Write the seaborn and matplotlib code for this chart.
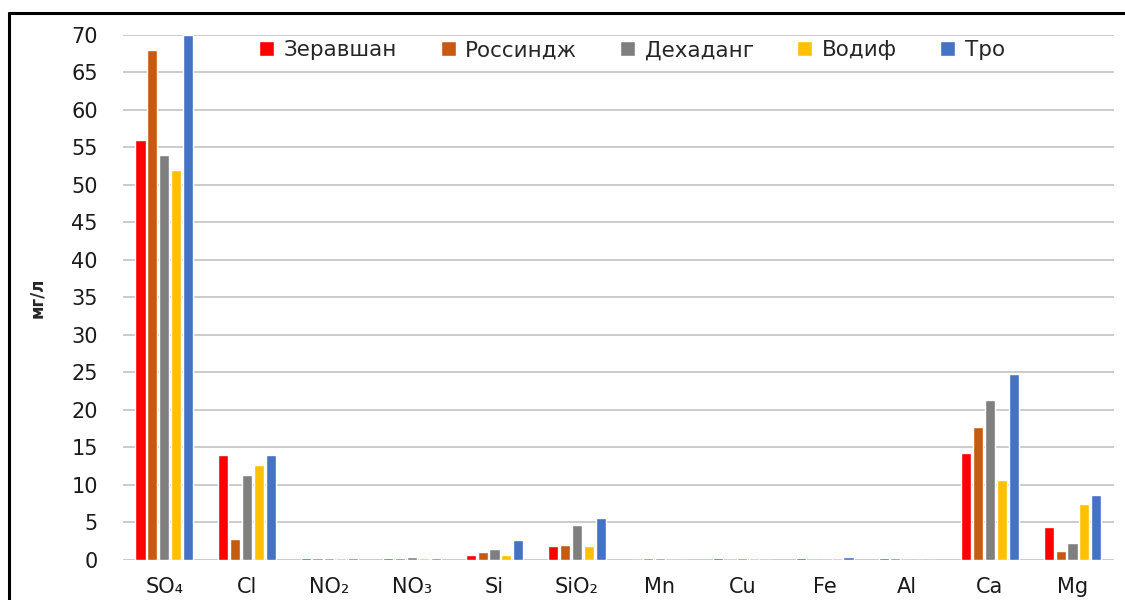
import pandas as pd
import seaborn as sns
import matplotlib.pyplot as plt
from matplotlib.lines import Line2D

# ions on the x axis
ions = ["SO₄", "Cl", "NO₂", "NO₃", "Si", "SiO₂", "Mn", "Cu", "Fe", "Al", "Ca", "Mg"]

# concentrations (mg/l) per river
zeravshan = [56, 14.0, 0.25, 0.25, 0.7, 1.8, 0.0, 0.2, 0.2, 0.2, 14.2, 4.4]
rossindzh = [68, 2.8, 0.25, 0.25, 1.0, 2.0, 0.2, 0.0, 0.0, 0.2, 17.7, 1.2]
dehadang = [54, 11.3, 0.25, 0.35, 1.4, 4.6, 0.2, 0.2, 0.0, 0.0, 21.3, 2.2]
vodif = [52, 12.7, 0.2, 0.2, 0.7, 1.8, 0.0, 0.2, 0.2, 0.0, 10.7, 7.5]
tro = [70, 14.0, 0.2, 0.2, 2.6, 5.6, 0.0, 0.0, 0.35, 0.0, 24.8, 8.7]

rivers = ["Зеравшан", "Россиндж", "Дехаданг", "Водиф", "Тро"]
colors = ["#FF0000", "#C55A11", "#7F7F7F", "#FFC000", "#4472C4"]

rows = []
for river, vals in zip(rivers, [zeravshan, rossindzh, dehadang, vodif, tro]):
    for ion, v in zip(ions, vals):
        rows.append({"ion": ion, "river": river, "value": v})
df = pd.DataFrame(rows)

sns.set_style("white")
plt.rcParams["font.family"] = ["DejaVu Sans"]

fig = plt.figure(figsize=(11.25, 6), dpi=100)
ax = fig.add_axes([0.1093, 0.0667, 0.8807, 0.875])

sns.barplot(data=df, x="ion", y="value", hue="river", hue_order=rivers,
            palette=colors, width=0.72, gap=0.15, saturation=1,
            order=ions, ax=ax, zorder=3)

ax.set_ylim(0, 70)
ax.set_yticks(range(0, 71, 5))
ax.set_xlim(-0.5, len(ions) - 0.5)
ax.yaxis.grid(True, color="#BDBDBD", linewidth=1.1, zorder=0)
ax.set_axisbelow(True)
for s in ax.spines.values():
    s.set_visible(False)
ax.tick_params(axis="y", length=0, pad=18, labelsize=15, labelcolor="#1a1a1a")
ax.tick_params(axis="x", length=0, pad=12, labelsize=15, labelcolor="#1a1a1a")
ax.set_xlabel("")
ax.set_ylabel("мг/л", fontsize=12, fontweight="bold", labelpad=18)

handles, labels = ax.get_legend_handles_labels()
ax.legend(handles, labels, loc="center", bbox_to_anchor=(0.514, 0.971), ncol=5,
          frameon=False, fontsize=15.5, handlelength=0.7, handleheight=0.7,
          handletextpad=0.45, columnspacing=2.0)

# outer frame (top and left edges visible)
fig.add_artist(Line2D([0.008, 1.0], [0.978, 0.978], color="black", linewidth=2.2,
                      transform=fig.transFigure))
fig.add_artist(Line2D([0.008, 0.008], [0.0, 0.978], color="black", linewidth=2.2,
                      transform=fig.transFigure))

fig.savefig("out.png", dpi=100)
